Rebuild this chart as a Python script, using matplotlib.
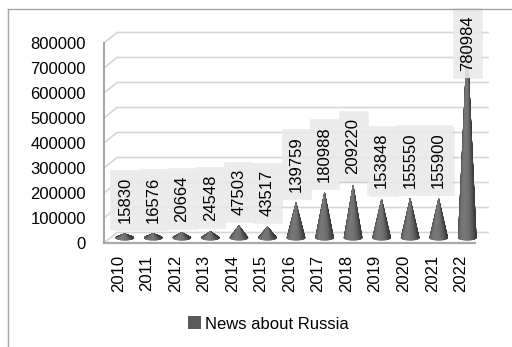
import numpy as np
import matplotlib
matplotlib.use("Agg")
import matplotlib.pyplot as plt
from matplotlib.collections import PolyCollection
from matplotlib.lines import Line2D
from matplotlib.patches import Patch
import matplotlib.patheffects as pe

plt.rcParams['font.family'] = ['Liberation Sans', 'DejaVu Sans']

# ---- data ----
years = ["2010", "2011", "2012", "2013", "2014", "2015", "2016",
         "2017", "2018", "2019", "2020", "2021", "2022"]
news_counts = [15830, 16576, 20664, 24548, 47503, 43517, 139759,
               180988, 209220, 153848, 155550, 155900, 780984]
series_name = "News about Russia"
y_ticks = [0, 100000, 200000, 300000, 400000, 500000, 600000, 700000, 800000]

W, H = 512, 347
fig = plt.figure(figsize=(W / 100, H / 100), dpi=100)

# front plane of the 3-D plot box
ax_l, ax_t, ax_w, ax_h = 104, 43, 371, 200
ax = fig.add_axes([ax_l / W, 1 - (ax_t + ax_h) / H, ax_w / W, ax_h / H])
n = len(years)
ymax = y_ticks[-1]
ax.set_xlim(-0.5, n - 0.5)
ax.set_ylim(0, ymax)
for s in ax.spines.values():
    s.set_visible(False)
ax.patch.set_visible(False)

px_x = ax_w / n          # pixels per category
px_y = ax_h / ymax       # pixels per unit value

# depth offsets (back wall and mid-depth) expressed in data units
back_dx, back_dy = 13 / px_x, 10.5 / px_y
mid_dx, mid_dy = 6.5 / px_x, 5.25 / px_y

# gridlines: side-wall diagonal + back wall
x0, x1 = -0.5, n - 0.5
for t in y_ticks:
    ax.plot([x0, x0 + back_dx, x1 + back_dx], [t, t + back_dy, t + back_dy],
            color='#d6d6d6', lw=1.2, clip_on=False, zorder=1,
            solid_joinstyle='miter')

# floor edges and front vertical edge
ax.plot([x0, x1], [0, 0], color='#a9a9a9', lw=1.6, clip_on=False, zorder=2)
ax.plot([x0, x0], [0, ymax], color='#a3a3a3', lw=1.4, clip_on=False, zorder=2)

# cones: fan of triangles from the apex to the base ellipse, shaded by facing
half_w = 9 / px_x
half_h = 2.5 / px_y
light = np.array([-0.35, -0.94])
light /= np.linalg.norm(light)
theta = np.linspace(-np.pi, np.pi, 97)
for i, v in enumerate(news_counts):
    cx, cy = i + mid_dx, mid_dy
    apex = (cx, cy + v)
    px = cx + half_w * np.cos(theta)
    py = cy + half_h * np.sin(theta)
    tris, depth, cols = [], [], []
    for k in range(len(theta) - 1):
        tm = 0.5 * (theta[k] + theta[k + 1])
        tris.append([apex, (px[k], py[k]), (px[k + 1], py[k + 1])])
        depth.append(np.sin(tm))
        d = max(0.0, np.cos(tm) * light[0] + np.sin(tm) * light[1])
        g = (58 + 62 * d ** 1.3) / 255
        cols.append((g, g, g))
    order = np.argsort(depth)[::-1]
    tris = [tris[k] for k in order]
    cols = [cols[k] for k in order]
    ax.add_collection(PolyCollection(tris, facecolors=cols, edgecolors=cols,
                                     linewidths=0.4, clip_on=False, zorder=3))

# data labels
labels = []
for i, v in enumerate(news_counts):
    t = ax.text(i + mid_dx, v + mid_dy + 11 / px_y, f"{v}", rotation=90,
                ha='center', va='bottom', fontsize=12, color='black',
                zorder=5, clip_on=False,
                bbox=dict(boxstyle='square,pad=0.42', fc='#ebebeb',
                          ec='none', alpha=0.85))
    t.get_bbox_patch().set_path_effects(
        [pe.SimplePatchShadow(offset=(1, -1), shadow_rgbFace='#b0b0b0', alpha=0.2),
         pe.Normal()])
    labels.append(t)

# axes ticks
ax.set_xticks(range(n))
ax.set_xticklabels(years, rotation=90, fontsize=12)
ax.set_yticks(y_ticks)
ax.set_yticklabels([str(t) for t in y_ticks], fontsize=12)
ax.tick_params(axis='x', length=0, pad=8.6)
ax.tick_params(axis='y', length=0, pad=13)

# keep labels inside the chart area
fig.canvas.draw()
renderer = fig.canvas.get_renderer()
limit = H - 15
for t in labels:
    ext = t.get_window_extent(renderer)
    if ext.y1 > limit:
        x, y = t.get_position()
        t.set_position((x, y - (ext.y1 - limit) / px_y))

# legend
fig.legend(handles=[Patch(facecolor='#5a5a5a', edgecolor='none', label=series_name)],
           loc='center', bbox_to_anchor=(0.5244, 0.0663), frameon=False,
           fontsize=12, handlelength=0.78, handleheight=0.78, handletextpad=0.2)

# chart area border
fig.add_artist(Line2D([7.5 / W, 7.5 / W], [0, 1 - 8.5 / H], transform=fig.transFigure,
                      color='#a6a6a6', lw=1.0))
fig.add_artist(Line2D([7.5 / W, 1], [1 - 8.5 / H, 1 - 8.5 / H], transform=fig.transFigure,
                      color='#a6a6a6', lw=1.0))

fig.savefig("out.png", dpi=100)
